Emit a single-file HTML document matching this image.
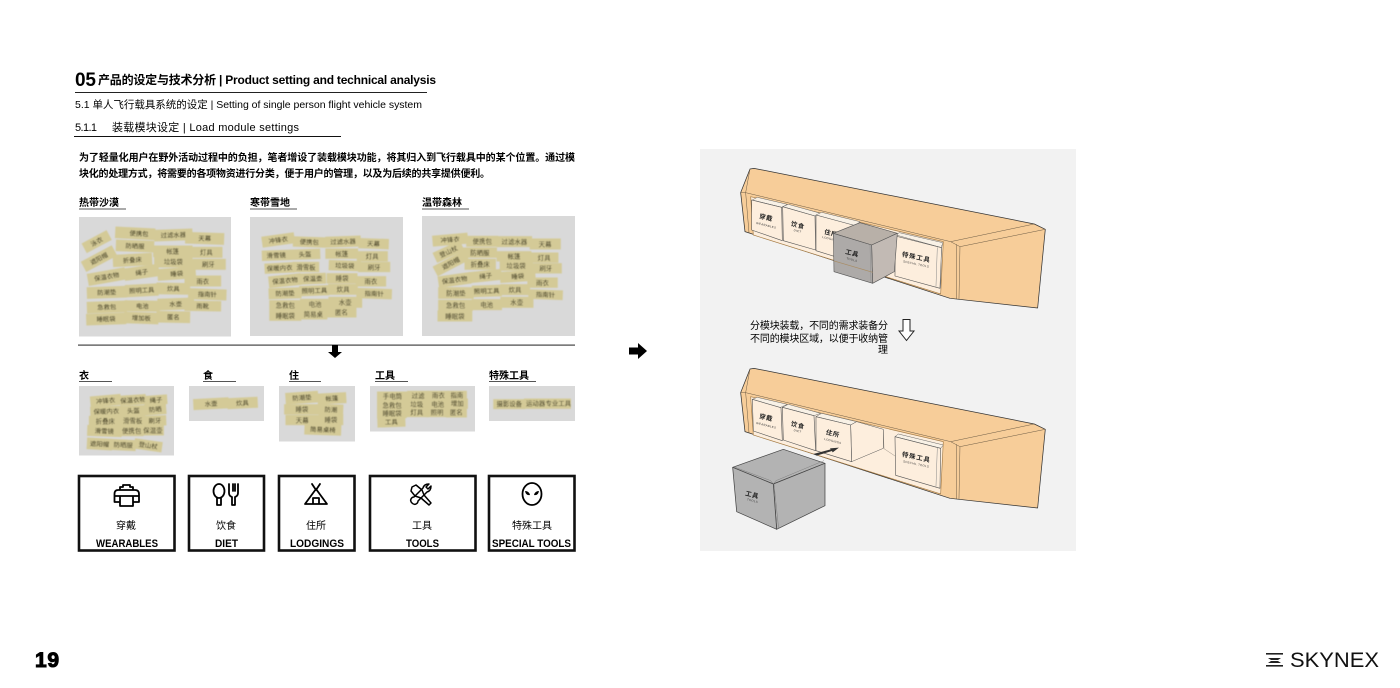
<!DOCTYPE html>
<html><head><meta charset="utf-8"><title>Load module settings</title>
<style>
html,body{margin:0;padding:0;background:#fff;width:1400px;height:688px;overflow:hidden}
svg{display:block;font-family:"Liberation Sans","Noto Sans CJK SC",sans-serif}
.st rect{fill:#d4ca97;stroke:#d4ca97;stroke-width:5}
.st text{font-size:19px;text-anchor:middle;fill:#2e2a10;font-family:"Noto Sans CJK SC",sans-serif}
.h{font-weight:700;font-size:10px;fill:#000}
.ln{stroke:#6b5a44;stroke-width:1.500;fill:none;stroke-linejoin:round}
.md{fill:#fdeedd;stroke:#555;stroke-width:1.800;stroke-linejoin:round}
.tp{fill:#f8f1e6;stroke:#666;stroke-width:1.500;stroke-linejoin:round}
.mt{font-size:19px;font-weight:700;text-anchor:middle;fill:#222;letter-spacing:2px;font-family:"Noto Sans CJK SC",sans-serif}
.ms{font-size:8.500px;text-anchor:middle;fill:#333;letter-spacing:1px}
.ic{fill:none;stroke:#000;stroke-width:1.800;stroke-linejoin:round;stroke-linecap:round}
</style></head><body>
<svg width="1400" height="688" viewBox="0 0 1400 688" xmlns="http://www.w3.org/2000/svg">
<defs><filter id="b" x="-5%" y="-5%" width="110%" height="110%"><feGaussianBlur stdDeviation="1.200"/></filter></defs>
<rect width="1400" height="688" fill="#fff"/>

<text x="75" y="86" font-size="19" font-weight="700" textLength="21">05</text>
<text x="98" y="84" font-size="12" font-weight="700" textLength="338" lengthAdjust="spacing">产品的设定与技术分析 | Product setting and technical analysis</text>
<rect x="75" y="92" width="352" height="1" fill="#222"/>
<text x="75" y="108" font-size="10.500" textLength="347" lengthAdjust="spacing">5.1 单人飞行载具系统的设定 | Setting of single person flight vehicle system</text>
<text x="75" y="131" font-size="11" textLength="22">5.1.1</text>
<text x="112" y="131" font-size="11" textLength="187" lengthAdjust="spacing">装载模块设定 | Load module settings</text>
<rect x="74" y="136" width="267" height="1" fill="#111"/>
<text x="79" y="161" font-size="10" font-weight="700" textLength="496" lengthAdjust="spacing">为了轻量化用户在野外活动过程中的负担，笔者增设了装载模块功能，将其归入到飞行载具中的某个位置。通过模</text>
<text x="79" y="177" font-size="10" font-weight="700" textLength="411" lengthAdjust="spacing">块化的处理方式，将需要的各项物资进行分类，便于用户的管理，以及为后续的共享提供便利。</text>

<text class="h" x="79" y="206">热带沙漠</text><rect x="79" y="208.500" width="47" height="1" fill="#555"/>
<text class="h" x="250" y="206">寒带雪地</text><rect x="250" y="208.500" width="47" height="1" fill="#555"/>
<text class="h" x="422" y="206">温带森林</text><rect x="422" y="208.500" width="47" height="1" fill="#555"/>

<rect x="79" y="217" width="152" height="119.500" fill="#d9d9d9"/>
<rect x="250" y="217" width="153" height="119" fill="#d9d9d9"/>
<rect x="422" y="216" width="153" height="120" fill="#d9d9d9"/>

<g class="st" filter="url(#b)" transform="translate(75 215) scale(.3333)">
<g transform="translate(65 80)rotate(-28)"><rect x="-40" y="-14" width="80" height="28"/><text y="7">泳衣</text></g>
<g transform="translate(72 131)rotate(-28)"><rect x="-50" y="-15" width="100" height="30"/><text y="7">遮阳帽</text></g>
<g transform="translate(180 55)rotate(3)"><rect x="-57" y="-15" width="115" height="30"/><text x="12" y="7">便携包</text></g>
<g transform="translate(295 60)rotate(-2)"><rect x="-55" y="-15" width="110" height="30"/><text y="7">过滤水器</text></g>
<g transform="translate(389 70)rotate(2)"><rect x="-56" y="-15" width="112" height="30"/><text y="7">天幕</text></g>
<g transform="translate(180 93)rotate(2)"><rect x="-55" y="-15" width="110" height="30"/><text y="7">防晒服</text></g>
<g transform="translate(293 109)"><rect x="-56" y="-15" width="113" height="30"/><text y="7">帐篷</text></g>
<g transform="translate(394 112)"><rect x="-46" y="-14" width="92" height="28"/><text y="7">灯具</text></g>
<g transform="translate(172 135)rotate(-3)"><rect x="-56" y="-16" width="113" height="32"/><text y="7">折叠床</text></g>
<g transform="translate(295 140)"><rect x="-55" y="-15" width="110" height="30"/><text y="7">垃圾袋</text></g>
<g transform="translate(400 148)"><rect x="-50" y="-14" width="100" height="28"/><text y="7">刷牙</text></g>
<g transform="translate(95 185)rotate(-10)"><rect x="-55" y="-16" width="110" height="32"/><text y="7">保温衣物</text></g>
<g transform="translate(200 172)rotate(-8)"><rect x="-50" y="-16" width="100" height="32"/><text y="7">绳子</text></g>
<g transform="translate(305 176)rotate(-4)"><rect x="-55" y="-15" width="110" height="30"/><text y="7">睡袋</text></g>
<g transform="translate(383 198)"><rect x="-52" y="-14" width="105" height="28"/><text y="7">雨衣</text></g>
<g transform="translate(95 232)rotate(-2)"><rect x="-57" y="-15" width="115" height="30"/><text y="7">防潮垫</text></g>
<g transform="translate(200 226)rotate(-3)"><rect x="-47" y="-16" width="95" height="32"/><text y="7">照明工具</text></g>
<g transform="translate(295 221)rotate(1)"><rect x="-48" y="-15" width="96" height="30"/><text y="7">炊具</text></g>
<g transform="translate(397 238)rotate(2)"><rect x="-55" y="-14" width="110" height="28"/><text y="7">指南针</text></g>
<g transform="translate(95 276)rotate(-2)"><rect x="-57" y="-15" width="115" height="30"/><text y="7">急救包</text></g>
<g transform="translate(202 273)rotate(1)"><rect x="-50" y="-14" width="100" height="28"/><text y="7">电池</text></g>
<g transform="translate(302 267)rotate(-2)"><rect x="-52" y="-15" width="105" height="30"/><text y="7">水壶</text></g>
<g transform="translate(383 273)rotate(1)"><rect x="-52" y="-13" width="105" height="26"/><text y="7">雨靴</text></g>
<g transform="translate(93 312)rotate(-2)"><rect x="-57" y="-15" width="115" height="30"/><text y="7">睡眠袋</text></g>
<g transform="translate(199 309)rotate(2)"><rect x="-49" y="-15" width="98" height="30"/><text y="7">增加板</text></g>
<g transform="translate(295 306)rotate(1)"><rect x="-48" y="-15" width="96" height="30"/><text y="7">匿名</text></g>
</g>

<g class="st" filter="url(#b)" transform="translate(60 60) scale(.3378 .3333)">
<g transform="translate(646 540)rotate(-8)"><rect x="-46" y="-14" width="92" height="28"/><text y="7">冲锋衣</text></g>
<g transform="translate(738 546)rotate(2)"><rect x="-46" y="-13" width="92" height="26"/><text y="7">便携包</text></g>
<g transform="translate(838 545)rotate(-2)"><rect x="-50" y="-14" width="100" height="28"/><text y="7">过滤水器</text></g>
<g transform="translate(928 551)rotate(2)"><rect x="-42" y="-13" width="85" height="26"/><text y="7">天幕</text></g>
<g transform="translate(640 586)rotate(-2)"><rect x="-40" y="-13" width="80" height="26"/><text y="7">滑雪镜</text></g>
<g transform="translate(725 583)rotate(-2)"><rect x="-43" y="-13" width="86" height="26"/><text y="7">头盔</text></g>
<g transform="translate(834 581)"><rect x="-46" y="-13" width="92" height="26"/><text y="7">帐篷</text></g>
<g transform="translate(924 589)"><rect x="-43" y="-13" width="87" height="26"/><text y="7">灯具</text></g>
<g transform="translate(650 624)rotate(-3)"><rect x="-42" y="-13" width="84" height="26"/><text y="7">保暖内衣</text></g>
<g transform="translate(728 621)"><rect x="-37" y="-13" width="74" height="26"/><text y="7">滑雪板</text></g>
<g transform="translate(843 617)rotate(2)"><rect x="-45" y="-13" width="90" height="26"/><text y="7">垃圾袋</text></g>
<g transform="translate(930 621)"><rect x="-45" y="-13" width="90" height="26"/><text y="7">刷牙</text></g>
<g transform="translate(666 662)rotate(-6)"><rect x="-46" y="-15" width="92" height="30"/><text y="7">保温衣物</text></g>
<g transform="translate(748 656)rotate(-2)"><rect x="-37" y="-14" width="74" height="28"/><text y="7">保温壶</text></g>
<g transform="translate(835 655)"><rect x="-43" y="-13" width="86" height="26"/><text y="7">睡袋</text></g>
<g transform="translate(920 664)"><rect x="-42" y="-13" width="85" height="26"/><text y="7">雨衣</text></g>
<g transform="translate(666 700)rotate(-2)"><rect x="-46" y="-14" width="92" height="28"/><text y="7">防潮垫</text></g>
<g transform="translate(753 692)rotate(-2)"><rect x="-42" y="-13" width="84" height="26"/><text y="7">照明工具</text></g>
<g transform="translate(838 688)"><rect x="-42" y="-14" width="83" height="28"/><text y="7">炊具</text></g>
<g transform="translate(930 701)rotate(2)"><rect x="-50" y="-13" width="100" height="26"/><text y="7">指南针</text></g>
<g transform="translate(667 736)"><rect x="-45" y="-13" width="90" height="26"/><text y="7">急救包</text></g>
<g transform="translate(755 733)"><rect x="-42" y="-14" width="85" height="28"/><text y="7">电池</text></g>
<g transform="translate(844 727)"><rect x="-47" y="-14" width="95" height="28"/><text y="7">水壶</text></g>
<g transform="translate(667 767)"><rect x="-45" y="-13" width="90" height="26"/><text y="7">睡眠袋</text></g>
<g transform="translate(750 763)"><rect x="-39" y="-13" width="78" height="26"/><text y="7">简易桌</text></g>
<g transform="translate(833 757)"><rect x="-41" y="-13" width="83" height="26"/><text y="7">匿名</text></g>
</g>

<g class="st" filter="url(#b)" transform="translate(60 60) scale(.3378 .3333)">
<g transform="translate(1155 539)rotate(-5)"><rect x="-50" y="-14" width="100" height="28"/><text y="7">冲锋衣</text></g>
<g transform="translate(1250 544)"><rect x="-45" y="-14" width="90" height="28"/><text y="7">便携包</text></g>
<g transform="translate(1345 545)"><rect x="-50" y="-14" width="100" height="28"/><text y="7">过滤水器</text></g>
<g transform="translate(1436 552)"><rect x="-43" y="-14" width="87" height="28"/><text y="7">天幕</text></g>
<g transform="translate(1150 575)rotate(-25)"><rect x="-42" y="-14" width="84" height="28"/><text y="7">登山杖</text></g>
<g transform="translate(1243 578)"><rect x="-47" y="-13" width="95" height="26"/><text y="7">防晒服</text></g>
<g transform="translate(1344 589)"><rect x="-49" y="-13" width="98" height="26"/><text y="7">帐篷</text></g>
<g transform="translate(1433 593)"><rect x="-40" y="-13" width="80" height="26"/><text y="7">灯具</text></g>
<g transform="translate(1157 610)rotate(-28)"><rect x="-50" y="-14" width="100" height="28"/><text y="7">遮阳帽</text></g>
<g transform="translate(1244 613)"><rect x="-44" y="-14" width="88" height="28"/><text y="7">折叠床</text></g>
<g transform="translate(1350 617)"><rect x="-46" y="-13" width="93" height="26"/><text y="7">垃圾袋</text></g>
<g transform="translate(1438 625)"><rect x="-45" y="-13" width="90" height="26"/><text y="7">刷牙</text></g>
<g transform="translate(1168 660)rotate(-8)"><rect x="-46" y="-15" width="92" height="30"/><text y="7">保温衣物</text></g>
<g transform="translate(1260 648)rotate(-6)"><rect x="-45" y="-14" width="90" height="28"/><text y="7">绳子</text></g>
<g transform="translate(1355 649)rotate(-4)"><rect x="-50" y="-14" width="100" height="28"/><text y="7">睡袋</text></g>
<g transform="translate(1428 668)"><rect x="-42" y="-13" width="85" height="26"/><text y="7">雨衣</text></g>
<g transform="translate(1172 699)"><rect x="-50" y="-15" width="100" height="30"/><text y="7">防潮垫</text></g>
<g transform="translate(1263 693)rotate(-2)"><rect x="-41" y="-15" width="83" height="30"/><text y="7">照明工具</text></g>
<g transform="translate(1347 689)"><rect x="-41" y="-14" width="83" height="28"/><text y="7">炊具</text></g>
<g transform="translate(1437 704)rotate(2)"><rect x="-48" y="-12" width="97" height="24"/><text y="7">指南针</text></g>
<g transform="translate(1171 736)"><rect x="-49" y="-14" width="98" height="28"/><text y="7">急救包</text></g>
<g transform="translate(1263 734)"><rect x="-42" y="-14" width="85" height="28"/><text y="7">电池</text></g>
<g transform="translate(1352 727)"><rect x="-46" y="-14" width="93" height="28"/><text y="7">水壶</text></g>
<g transform="translate(1169 768)"><rect x="-49" y="-14" width="98" height="28"/><text y="7">睡眠袋</text></g>
</g>

<rect x="78" y="344.500" width="497" height="1.200" fill="#444"/>
<polygon points="332,345 338,345 338,352 342,352 335,358 328,352 332,352" fill="#000"/>

<text class="h" x="79" y="379">衣</text><rect x="79" y="381" width="33" height="1" fill="#555"/>
<text class="h" x="203" y="379">食</text><rect x="203" y="381" width="33" height="1" fill="#555"/>
<text class="h" x="289" y="379">住</text><rect x="289" y="381" width="32" height="1" fill="#555"/>
<text class="h" x="375" y="379">工具</text><rect x="375" y="381" width="33" height="1" fill="#555"/>
<text class="h" x="489" y="379">特殊工具</text><rect x="489" y="381" width="47" height="1" fill="#555"/>

<rect x="79" y="386" width="95" height="69.500" fill="#d9d9d9"/>
<rect x="189" y="386" width="75" height="35" fill="#d9d9d9"/>
<rect x="279" y="386" width="76" height="55.500" fill="#d9d9d9"/>
<rect x="370" y="386" width="105" height="45.500" fill="#d9d9d9"/>
<rect x="489" y="386" width="86" height="35" fill="#d9d9d9"/>

<g class="st" filter="url(#b)" transform="translate(60 340) scale(.3378 .3333)">
<g transform="translate(135 182)rotate(-5)"><rect x="-43" y="-14" width="86" height="28"/><text y="7">冲锋衣</text></g>
<g transform="translate(216 180)rotate(-4)"><rect x="-36" y="-13" width="72" height="26"/><text y="7">保温衣物</text></g>
<g transform="translate(284 180)rotate(-4)"><rect x="-31" y="-12" width="62" height="24"/><text y="7">绳子</text></g>
<g transform="translate(137 214)rotate(-2)"><rect x="-45" y="-13" width="90" height="26"/><text y="7">保暖内衣</text></g>
<g transform="translate(217 212)rotate(-2)"><rect x="-35" y="-13" width="70" height="26"/><text y="7">头盔</text></g>
<g transform="translate(282 208)rotate(-4)"><rect x="-30" y="-14" width="60" height="28"/><text y="7">防晒</text></g>
<g transform="translate(134 243)"><rect x="-46" y="-13" width="92" height="26"/><text y="7">折叠床</text></g>
<g transform="translate(215 242)"><rect x="-35" y="-13" width="70" height="26"/><text y="7">滑雪板</text></g>
<g transform="translate(281 242)rotate(-2)"><rect x="-31" y="-13" width="62" height="26"/><text y="7">刷牙</text></g>
<g transform="translate(131 273)rotate(2)"><rect x="-48" y="-14" width="97" height="28"/><text y="7">滑雪镜</text></g>
<g transform="translate(212 272)"><rect x="-32" y="-14" width="65" height="28"/><text y="7">便携包</text></g>
<g transform="translate(275 270)"><rect x="-30" y="-14" width="60" height="28"/><text y="7">保温壶</text></g>
<g transform="translate(117 312)rotate(3)"><rect x="-35" y="-15" width="70" height="30"/><text y="7">遮阳帽</text></g>
<g transform="translate(187 315)rotate(3)"><rect x="-35" y="-14" width="70" height="28"/><text y="7">防晒服</text></g>
<g transform="translate(261 316)rotate(8)"><rect x="-39" y="-13" width="78" height="26"/><text y="7">登山杖</text></g>

<g transform="translate(447 191)rotate(-3)"><rect x="-50" y="-14" width="100" height="28"/><text y="7">水壶</text></g>
<g transform="translate(540 189)rotate(-3)"><rect x="-42" y="-14" width="85" height="28"/><text y="7">炊具</text></g>

<g transform="translate(716 173)rotate(-4)"><rect x="-46" y="-15" width="92" height="30"/><text y="7">防潮垫</text></g>
<g transform="translate(805 175)rotate(-3)"><rect x="-40" y="-14" width="80" height="28"/><text y="7">帐篷</text></g>
<g transform="translate(716 208)"><rect x="-50" y="-13" width="100" height="26"/><text y="7">睡袋</text></g>
<g transform="translate(802 209)rotate(2)"><rect x="-34" y="-14" width="68" height="28"/><text y="7">防潮</text></g>
<g transform="translate(717 240)"><rect x="-47" y="-13" width="95" height="26"/><text y="7">天幕</text></g>
<g transform="translate(802 239)"><rect x="-33" y="-14" width="67" height="28"/><text y="7">睡袋</text></g>
<g transform="translate(778 269)rotate(2)"><rect x="-52" y="-14" width="104" height="28"/><text y="7">简易桌椅</text></g>

<g transform="translate(984 169)"><rect x="-43" y="-12" width="86" height="24"/><text y="6">手电筒</text></g>
<g transform="translate(1060 168)"><rect x="-30" y="-13" width="60" height="26"/><text y="6">过滤</text></g>
<g transform="translate(1120 167)"><rect x="-30" y="-12" width="60" height="24"/><text y="6">雨衣</text></g>
<g transform="translate(1175 167)"><rect x="-27" y="-12" width="54" height="24"/><text y="6">指南</text></g>
<g transform="translate(983 196)"><rect x="-42" y="-12" width="83" height="24"/><text y="6">急救包</text></g>
<g transform="translate(1056 193)"><rect x="-31" y="-13" width="63" height="26"/><text y="6">垃圾</text></g>
<g transform="translate(1118 193)"><rect x="-30" y="-13" width="60" height="26"/><text y="6">电池</text></g>
<g transform="translate(1176 191)"><rect x="-28" y="-13" width="57" height="26"/><text y="6">增加</text></g>
<g transform="translate(983 220)"><rect x="-42" y="-12" width="83" height="24"/><text y="6">睡眠袋</text></g>
<g transform="translate(1056 217)"><rect x="-31" y="-12" width="63" height="24"/><text y="6">灯具</text></g>
<g transform="translate(1116 217)"><rect x="-29" y="-12" width="58" height="24"/><text y="6">照明</text></g>
<g transform="translate(1173 217)"><rect x="-28" y="-13" width="57" height="26"/><text y="6">匿名</text></g>
<g transform="translate(981 247)rotate(-2)"><rect x="-39" y="-12" width="78" height="24"/><text y="6">工具</text></g>

<g transform="translate(1330 192)"><rect x="-45" y="-12" width="90" height="25"/><text y="6">摄影设备</text></g>
<g transform="translate(1408 191)"><rect x="-32" y="-13" width="65" height="26"/><text y="6">运动器</text></g>
<g transform="translate(1475 191)"><rect x="-35" y="-13" width="70" height="26"/><text y="6">专业工具</text></g>
</g>

<g fill="#fff" stroke="#111" stroke-width="2.600">
<rect x="79" y="476" width="95.500" height="74.500"/>
<rect x="189" y="476" width="75" height="74.500"/>
<rect x="279" y="476" width="75.500" height="74.500"/>
<rect x="370" y="476" width="105.500" height="74.500"/>
<rect x="489" y="476" width="85.500" height="74.500"/>
</g>

<g class="ic">
<path d="M120 490v-3h3v-2h7v2h3v3M118 490h17q4 0 4 4v8h-6M120 502h-5.500v-8q0-4 3.500-4M120 496h13v10h-13zM115 496h5M133 496h5"/>
<ellipse cx="219" cy="491" rx="5.500" ry="7"/>
<path d="M217 498v7h4v-7M229 484v9q0 3 3 4v8h3v-8q3-1 3-4v-9M233 484v7M235 484v7"/>
<path d="M312 484l4 6 4-6M316 489l-11 15h22zM313 504v-6h6v6"/>
<ellipse cx="532" cy="494" rx="9.500" ry="11"/>
</g>
<g fill="none" stroke="#000" stroke-width="1.500" stroke-linejoin="round">
<path d="M412 487l4-2 6 5 2 5 7 8-2 2-8-7-6-2-4-5z"/>
<path d="M431 486l-3 3-2-2 3-3q-5 0-6 4l-9 9q-2 0-3 2t1 4 4 1 2-3l9-9q4-1 4-6z"/>
</g>
<path d="M525 491q4 0 5 4-4 1-5-4zM539 491q-4 0-5 4 4 1 5-4z" fill="#000"/>

<g font-family="'Noto Sans CJK SC',sans-serif" font-size="10" fill="#000" text-anchor="middle">
<text x="126" y="529">穿戴</text><text x="226" y="529">饮食</text><text x="316" y="529">住所</text><text x="422" y="529">工具</text><text x="532" y="529">特殊工具</text>
</g>
<g font-size="11" font-weight="700" fill="#000">
<text x="96" y="547" textLength="62" lengthAdjust="spacingAndGlyphs">WEARABLES</text>
<text x="215" y="547" textLength="23" lengthAdjust="spacingAndGlyphs">DIET</text>
<text x="290" y="547" textLength="54" lengthAdjust="spacingAndGlyphs">LODGINGS</text>
<text x="406" y="547" textLength="33" lengthAdjust="spacingAndGlyphs">TOOLS</text>
<text x="492" y="547" textLength="79" lengthAdjust="spacingAndGlyphs">SPECIAL TOOLS</text>
</g>

<polygon points="629,347.500 638,347.500 638,343 647,351 638,359 638,354.500 629,354.500" fill="#000"/>

<rect x="700" y="149" width="376" height="402" fill="#f2f2f2"/>

<g transform="translate(700 150) scale(.3333)">
<polygon points="122,128 150,57 162,55 1003,222 1036,238 1013,474 750,445 135,245" fill="#f7cd99" stroke="#333" stroke-width="2.200" stroke-linejoin="round"/>
<polygon points="152,140 730,275 722,432 160,255" fill="#fdeedd" stroke="#a67c45" stroke-width="2"/>
<path class="ln" d="M150 57L137 128M137 128L752 275M122 128L137 128M752 275L1003 222M780 290L1036 238M752 275L780 290M770 283L770 447M780 290L777 447M137 128L147 248"/>
<polygon class="tp" points="157,150 172,142 262,163 245,172"/>
<polygon class="md" points="155,150 245,172 247,272 155,240"/>
<text class="mt" transform="translate(197 209)rotate(14)">穿戴</text>
<text class="ms" transform="translate(198 229)rotate(14)">WEARABLES</text>
<polygon class="tp" points="248,170 265,163 362,190 345,198"/>
<polygon class="md" points="248,170 345,198 347,300 250,272"/>
<text class="mt" transform="translate(292 232)rotate(14)">饮食</text>
<text class="ms" transform="translate(292 246)rotate(14)">DIET</text>
<polygon class="tp" points="348,195 365,187 480,215 465,228"/>
<polygon class="md" points="348,195 470,228 470,340 348,302"/>
<text class="mt" transform="translate(392 256)rotate(14)">住所</text>
<text class="ms" transform="translate(392 270)rotate(14)">LODGINGS</text>
<polygon class="tp" points="588,255 598,248 728,278 725,293"/>
<polygon class="md" points="586,258 725,293 720,415 585,378"/>
<path class="ln" d="M712 292L708 410M725 285L722 415" style="stroke:#888"/>
<text class="mt" style="letter-spacing:3px" transform="translate(648 328)rotate(12)">特殊工具</text>
<text class="ms" transform="translate(648 345)rotate(12)">SPECIAL TOOLS</text>
<polygon points="400,250 480,218 592,250 515,285" fill="#b8b0a8" stroke="#555" stroke-width="1.800" stroke-linejoin="round"/>
<polygon points="515,285 592,250 583,365 518,400" fill="#c2bab4" stroke="#555" stroke-width="1.800" stroke-linejoin="round"/>
<polygon points="400,250 515,285 518,400 402,365" fill="#adaaa8" stroke="#555" stroke-width="1.800" stroke-linejoin="round"/>
<path d="M402 333L518 367" stroke="#a98c62" stroke-width="2"/>
<path d="M510 284L513 398" stroke="#888" stroke-width="1.200"/>
<text class="mt" transform="translate(455 316)rotate(14)">工具</text>
<text class="ms" transform="translate(455 332)rotate(14)">TOOLS</text>
</g>

<text x="750" y="329" font-size="10" fill="#000" textLength="138" lengthAdjust="spacing">分模块装载，不同的需求装备分</text>
<text x="750" y="342" font-size="10" fill="#000" textLength="138" lengthAdjust="spacing">不同的模块区域，以便于收纳管</text>
<text x="878" y="353" font-size="10" fill="#000">理</text>
<polygon points="903,319.500 910,319.500 910,331 914,331 906.500,340.500 899,331 903,331" fill="#fff" stroke="#222" stroke-width="1"/>

<g transform="translate(700 350) scale(.3333)">
<polygon points="122,128 150,57 162,55 1003,222 1036,238 1013,474 750,445 135,245" fill="#f7cd99" stroke="#333" stroke-width="2.200" stroke-linejoin="round"/>
<polygon points="152,140 730,275 722,432 160,255" fill="#fdeedd" stroke="#a67c45" stroke-width="2"/>
<path class="ln" d="M150 57L137 128M137 128L752 275M122 128L137 128M752 275L1003 222M780 290L1036 238M752 275L780 290M770 283L770 447M780 290L777 447M137 128L147 248"/>
<path d="M550 238L552 296L585 318" fill="none" stroke="#8a8378" stroke-width="1.300"/>
<polygon class="tp" points="157,148 172,142 262,163 240,173"/>
<polygon class="md" points="157,148 243,173 247,272 160,243"/>
<text class="mt" transform="translate(197 209)rotate(14)">穿戴</text>
<text class="ms" transform="translate(198 229)rotate(14)">WEARABLES</text>
<polygon class="tp" points="247,172 265,163 362,190 342,197"/>
<polygon class="md" points="247,172 342,197 347,302 250,270"/>
<text class="mt" transform="translate(292 232)rotate(14)">饮食</text>
<text class="ms" transform="translate(292 246)rotate(14)">DIET</text>
<polygon class="tp" points="348,200 365,190 470,215 452,225"/>
<polygon class="md" points="452,225 470,215 550,238 550,295 455,335" style="stroke-width:1.500"/>
<polygon class="md" points="348,200 452,225 455,335 348,302"/>
<text class="mt" transform="translate(397 257)rotate(14)">住所</text>
<text class="ms" transform="translate(398 276)rotate(14)">LODGINGS</text>
<path d="M340 312L392 298L390 295L417 293L398 307L396 303L350 317Z" fill="#333"/>
<polygon class="tp" points="585,260 595,252 730,285 722,295"/>
<polygon class="md" points="585,260 722,295 720,415 587,376"/>
<path class="ln" d="M712 294L708 410" style="stroke:#888"/>
<text class="mt" style="letter-spacing:3px" transform="translate(648 328)rotate(12)">特殊工具</text>
<text class="ms" transform="translate(648 345)rotate(12)">SPECIAL TOOLS</text>
<polygon points="98,352 250,298 375,340 220,402" fill="#b3b3b3" stroke="#444" stroke-width="2.200" stroke-linejoin="round"/>
<polygon points="220,402 375,340 375,467 230,538" fill="#b3b3b3" stroke="#444" stroke-width="2.200" stroke-linejoin="round"/>
<polygon points="98,352 220,402 230,538 110,485" fill="#b3b3b3" stroke="#444" stroke-width="2.200" stroke-linejoin="round"/>
<path d="M212 392L220 402L228 392M212 392L100 350M228 392L372 332M222 402L236 536" stroke="#777" stroke-width="1.300" fill="none"/>
<text class="mt" transform="translate(155 441)rotate(14)">工具</text>
<text class="ms" transform="translate(157 455)rotate(14)">TOOLS</text>
</g>

<text x="35" y="667" font-size="21" font-weight="700" fill="#000" stroke="#000" stroke-width="1" textLength="24" lengthAdjust="spacing">19</text>

<g fill="#222">
<rect x="1266" y="653" width="17" height="1.600"/>
<polygon points="1268,658 1281,658 1278,660 1271,660"/>
<polygon points="1271,661 1278,661 1281,663 1268,663"/>
<rect x="1266" y="665" width="17" height="1.600"/>
</g>
<text x="1290" y="667" font-size="21" fill="#111" textLength="89" lengthAdjust="spacingAndGlyphs">SKYNEX</text>
</svg>
</body></html>
